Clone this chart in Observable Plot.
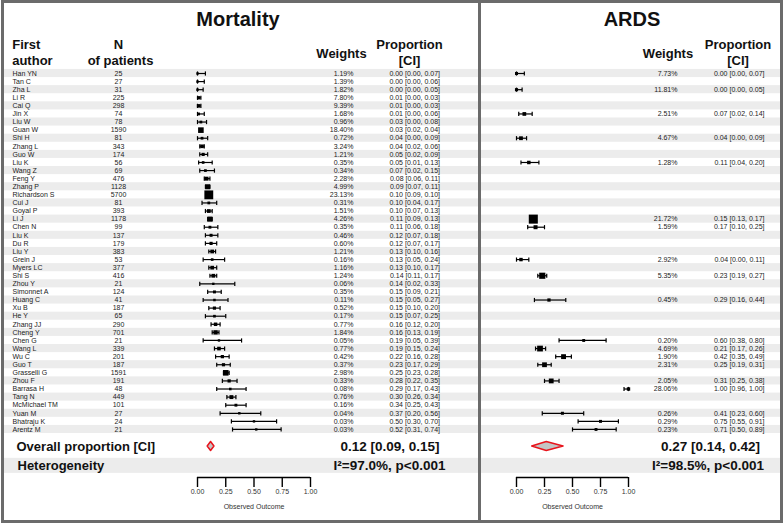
<!DOCTYPE html>
<html>
<head>
<meta charset="utf-8">
<script src="https://cdn.jsdelivr.net/npm/d3@7"></script>
<script src="https://cdn.jsdelivr.net/npm/@observablehq/plot@0.6"></script>
<style>
  html, body { margin: 0; padding: 0; background: #fff; }
  #frame { position: absolute; left: 1px; top: 0; width: 782px; height: 523px; background: #6b6b6b; }
  .panel { position: absolute; top: 3px; height: 517px; background: #fff; overflow: visible; }
  #left { left: 3px; width: 474px; }
  #right { left: 480px; width: 299px; }
  svg { display: block; }
</style>
</head>
<body>
<div id="frame"><div id="left" class="panel"></div><div id="right" class="panel"></div></div>
<script>
// ---------- data ----------
const authors = ["Han YN","Tan C","Zha L","Li R","Cai Q","Jin X","Liu W","Guan W","Shi H","Zhang L",
  "Guo W","Liu K","Wang Z","Feng Y","Zhang P","Richardson S","Cui J","Goyal P","Li J","Chen N",
  "Liu K","Du R","Liu Y","Grein J","Myers LC","Shi S","Zhou Y","Simonnet A","Huang C","Xu B",
  "He Y","Zhang JJ","Cheng Y","Chen G","Wang L","Wu C","Guo T","Grasselli G","Zhou F","Barrasa H",
  "Tang N","McMichael TM","Yuan M","Bhatraju K","Arentz M"];
const patients = [25,27,31,225,298,74,78,1590,81,343,
  174,56,69,476,1128,5700,81,393,1178,99,
  137,179,383,53,377,416,21,124,41,187,
  65,290,701,21,339,201,187,1591,191,48,
  449,101,27,24,21];
const mortWeight = [1.19,1.39,1.82,7.80,9.39,1.68,0.96,18.40,0.72,3.24,
  1.21,0.35,0.34,2.28,4.99,23.13,0.31,1.51,4.26,0.35,
  0.46,0.60,1.21,0.16,1.16,1.24,0.06,0.35,0.11,0.52,
  0.17,0.77,1.84,0.05,0.77,0.42,0.37,2.98,0.33,0.08,
  0.76,0.16,0.04,0.03,0.03];
const mortEst = [0.00,0.00,0.00,0.01,0.01,0.01,0.03,0.03,0.04,0.04,
  0.05,0.05,0.07,0.08,0.09,0.10,0.10,0.10,0.11,0.11,
  0.12,0.12,0.13,0.13,0.13,0.14,0.14,0.15,0.15,0.15,
  0.15,0.16,0.16,0.19,0.19,0.22,0.23,0.25,0.28,0.29,
  0.30,0.34,0.37,0.50,0.52];
const mortLow = [0.00,0.00,0.00,0.00,0.00,0.00,0.00,0.02,0.00,0.02,
  0.02,0.01,0.02,0.06,0.07,0.09,0.04,0.07,0.09,0.06,
  0.07,0.07,0.10,0.05,0.10,0.11,0.02,0.09,0.05,0.10,
  0.07,0.12,0.13,0.05,0.15,0.16,0.17,0.23,0.22,0.17,
  0.26,0.25,0.20,0.30,0.31];
const mortHigh = [0.07,0.06,0.05,0.03,0.03,0.06,0.08,0.04,0.09,0.06,
  0.09,0.13,0.15,0.11,0.11,0.10,0.17,0.13,0.13,0.18,
  0.18,0.17,0.16,0.24,0.17,0.17,0.33,0.21,0.27,0.20,
  0.25,0.20,0.19,0.39,0.24,0.28,0.29,0.28,0.35,0.43,
  0.34,0.43,0.56,0.70,0.74];
const ardsWeight = [7.73,null,11.81,null,null,2.51,null,null,4.67,null,
  null,1.28,null,null,null,null,null,null,21.72,1.59,
  null,null,null,2.92,null,5.35,null,null,0.45,null,
  null,null,null,0.20,4.69,1.90,2.31,null,2.05,28.06,
  null,null,0.26,0.29,0.23];
const ardsEst = [0.00,null,0.00,null,null,0.07,null,null,0.04,null,
  null,0.11,null,null,null,null,null,null,0.15,0.17,
  null,null,null,0.04,null,0.23,null,null,0.29,null,
  null,null,null,0.60,0.21,0.42,0.25,null,0.31,1.00,
  null,null,0.41,0.75,0.71];
const ardsLow = [0.00,null,0.00,null,null,0.02,null,null,0.00,null,
  null,0.04,null,null,null,null,null,null,0.13,0.10,
  null,null,null,0.00,null,0.19,null,null,0.16,null,
  null,null,null,0.38,0.17,0.35,0.19,null,0.25,0.96,
  null,null,0.23,0.55,0.50];
const ardsHigh = [0.07,null,0.05,null,null,0.14,null,null,0.09,null,
  null,0.20,null,null,null,null,null,null,0.17,0.25,
  null,null,null,0.11,null,0.27,null,null,0.44,null,
  null,null,null,0.80,0.26,0.49,0.31,null,0.38,1.00,
  null,null,0.60,0.91,0.89];
const mortOverall = [0.12, 0.09, 0.15];
const ardsOverall = [0.27, 0.14, 0.42];
const mortHetero = "I\u00B2=97.0%, p<0.001";
const ardsHetero = "I\u00B2=98.5%, p<0.001";
const axisTicks = [0, 0.25, 0.5, 0.75, 1];

// ---------- layout ----------
const H = 517, Y_TOP = 70, PITCH = 8.09, MB = 43;
const N = authors.length;
const OVERALL_ROW = N - 1 + 2.1;
const HET_ROW = N - 1 + 4.5;
const AXIS_ROW = (H - MB - Y_TOP) / PITCH;
const FONT = "'Liberation Sans', Arial, Helvetica, sans-serif";
const fmt = d3.format(".2f");

function hdr(t, x, y, o = {}) {
  return Plot.text([t], {text: d => d, frameAnchor: "top-left", dx: x, dy: y,
    textAnchor: "middle", lineAnchor: "middle", fontWeight: "bold", fontSize: 13, fill: "#111", ...o});
}

function panel(cfg) {
  const {width, x0, unit, est, low, high, weight, rMax, rBig, overall, hetero} = cfg;
  const rows = authors.map((a, i) => ({i, author: a, n: patients[i], est: est[i], lo: low[i], hi: high[i], w: weight[i]}))
    .filter(d => d.est != null);
  const stripes = authors.map((a, i) => ({i})).filter(d => d.i % 2 === 0);
  const caps = rows.flatMap(d => [{i: d.i, x: d.lo}, {i: d.i, x: d.hi}]);
  const [oe, ol, oh] = overall;
  const dh = 0.556;
  const diamond = [{y: OVERALL_ROW - dh, x1: oe, x2: oe}, {y: OVERALL_ROW, x1: ol, x2: oh}, {y: OVERALL_ROW + dh, x1: oe, x2: oe}];
  const mid = (axisTicks[0] + axisTicks[axisTicks.length - 1]) / 2;

  const marks = [
    Plot.rect(stripes, {y1: d => d.i - 0.5, y2: d => d.i + 0.5, fill: "#ececec"}),
    Plot.rect([HET_ROW], {y1: d => d - 0.93, y2: d => d + 0.93, fill: "#ececec"}),
    Plot.link(rows, {x1: "lo", x2: "hi", y1: "i", y2: "i", stroke: "#000", strokeWidth: 1.2}),
    Plot.link(caps, {x1: "x", x2: "x", y1: d => d.i - 0.26, y2: d => d.i + 0.26, stroke: "#000", strokeWidth: 1.2}),
    Plot.dot(rows, {x: "est", y: "i", r: "n", symbol: "square", fill: "#000", stroke: null}),
    Plot.text(rows, {y: "i", text: d => fmt(d.w) + "%", frameAnchor: "left", dx: cfg.wCol, textAnchor: "end", fontSize: 7, fill: "#222"}),
    Plot.text(rows, {y: "i", text: d => `${fmt(d.est)} [${fmt(d.lo)}, ${fmt(d.hi)}]`, frameAnchor: "left", dx: cfg.ciCol, textAnchor: "end", fontSize: 7, fill: "#222"}),
    Plot.areaX(diamond, {y: "y", x1: "x1", x2: "x2", fill: "#c4c4c4", stroke: "#e8141c", strokeWidth: 1.5}),
    Plot.text([overall], {y: () => OVERALL_ROW, text: d => `${fmt(d[0])} [${fmt(d[1])}, ${fmt(d[2])}]`, frameAnchor: "left", dx: cfg.ovX, textAnchor: "middle", fontSize: 13.5, fontWeight: "bold", fill: "#111"}),
    Plot.text([hetero], {y: () => HET_ROW, text: d => d, frameAnchor: "left", dx: cfg.hetX, textAnchor: "middle", fontSize: 13.5, fontWeight: "bold", fill: "#111"}),
    Plot.ruleY([AXIS_ROW], {x1: axisTicks[0], x2: axisTicks[axisTicks.length - 1], stroke: "#000", strokeWidth: 1.5}),
    Plot.axisX(axisTicks, {tickSize: 10, tickPadding: 2, tickFormat: d3.format(".2f"), fontSize: 7, strokeWidth: 1.4, label: null, fill: "#333"}),
    Plot.text(["Observed Outcome"], {x: mid, text: d => d, frameAnchor: "bottom", dy: 31, fontSize: 7, fill: "#333"}),
    hdr(cfg.title, cfg.titleX, 15.6, {fontSize: 20}),
    hdr("Weights", cfg.hW, 50.1),
    hdr("Proportion", cfg.hP, 41.8),
    hdr("[CI]", cfg.hP, 57.1)
  ];
  if (cfg.table) {
    marks.push(
      Plot.text(rows, {y: "i", text: "author", frameAnchor: "left", dx: 8, textAnchor: "start", fontSize: 7, fill: "#222"}),
      Plot.text(rows, {y: "i", text: d => String(d.n), frameAnchor: "left", dx: 114, textAnchor: "middle", fontSize: 7, fill: "#222"}),
      hdr("First", 7.7, 41.8, {textAnchor: "start"}),
      hdr("author", 7.7, 57.1, {textAnchor: "start"}),
      hdr("N", 114, 41.8),
      hdr("of patients", 116, 57.1),
      Plot.text(["Overall proportion [CI]"], {y: () => OVERALL_ROW, text: d => d, frameAnchor: "left", dx: 12, textAnchor: "start", fontSize: 13, fontWeight: "bold", fill: "#111"}),
      Plot.text(["Heterogeneity"], {y: () => HET_ROW, text: d => d, frameAnchor: "left", dx: 13, textAnchor: "start", fontSize: 13, fontWeight: "bold", fill: "#111"})
    );
  }
  return Plot.plot({
    width, height: H, margin: 0, marginBottom: MB,
    x: {domain: [-x0 / unit, (width - x0) / unit]},
    y: {domain: [0, N - 1], range: [Y_TOP, Y_TOP + (N - 1) * PITCH], axis: null},
    r: {type: "pow", exponent: 0.5, domain: [0, rMax], range: [1.1, rBig]},
    style: {fontFamily: FONT, background: "transparent", overflow: "visible"},
    marks
  });
}

const ardsN = patients.filter((p, i) => ardsEst[i] != null);

document.getElementById("left").append(panel({
  width: 474, x0: 193, unit: 113, est: mortEst, low: mortLow, high: mortHigh, weight: mortWeight,
  rMax: d3.max(patients), rBig: 5.0, overall: mortOverall, hetero: mortHetero,
  title: "Mortality", titleX: 233.5, hW: 337, hP: 405, wCol: 349, ciCol: 435.5, ovX: 385.5, hetX: 385, table: true
}));
document.getElementById("right").append(panel({
  width: 299, x0: 35, unit: 112, est: ardsEst, low: ardsLow, high: ardsHigh, weight: ardsWeight,
  rMax: d3.max(ardsN), rBig: 5.1, overall: ardsOverall, hetero: ardsHetero,
  title: "ARDS", titleX: 150.5, hW: 186.5, hP: 256.5, wCol: 196, ciCol: 283, ovX: 229, hetX: 226.5, table: false
}));
</script>
</body>
</html>
